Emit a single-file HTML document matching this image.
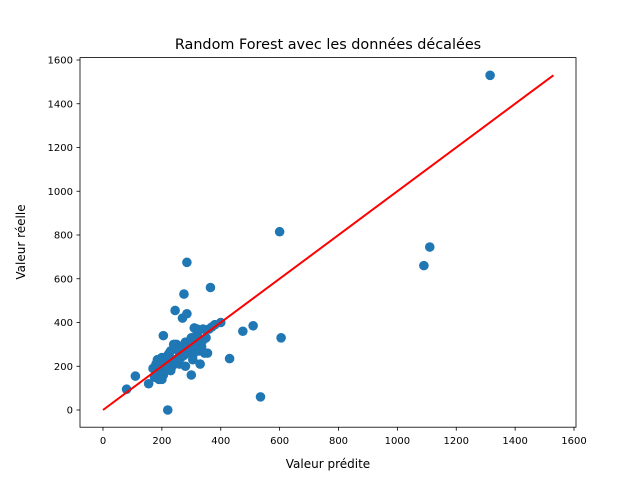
<!DOCTYPE html>
<html><head><meta charset="utf-8"><style>
body{margin:0;background:#fff;font-family:"Liberation Sans","DejaVu Sans",sans-serif}
svg text{font-family:"DejaVu Sans","Liberation Sans",sans-serif}
</style></head><body>
<svg id="chart" width="640" height="480" xmlns="http://www.w3.org/2000/svg">
<rect width="640" height="480" fill="#fff"/>
<text x="328" y="49" font-size="14.4" text-anchor="middle">Random Forest avec les données décalées</text>
<g id="marks"></g>
<rect x="80" y="57.6" width="496" height="369.6" fill="none" stroke="#000" stroke-width="0.8"/>
<g id="xt"></g><g id="yt"></g>
<text x="328" y="468" font-size="12" text-anchor="middle">Valeur prédite</text>
<text transform="translate(25,242) rotate(-90)" font-size="12" text-anchor="middle">Valeur réelle</text>
</svg>
<script>
const predicted=[1315,1110,1090,600,605,535,285,365,275,245,220,430,475,510,80,110,155,205,270,285,
170,180,190,200,210,220,230,240,250,260,270,280,290,300,310,320,330,340,350,360,370,380,400,
195,215,235,255,265,295,305,315,325,335,345,225,245,265,300,320,175,205,260,280,300,330,190,240,355,310,290,200,230,
185,250,275,320,340,215,260,290,305];
const actual=[1530,745,660,815,330,60,675,560,530,455,0,235,360,385,95,155,120,340,420,440,
190,210,200,240,230,250,270,230,300,260,290,310,280,320,300,340,300,370,330,370,380,390,400,
170,190,200,220,240,260,250,280,270,290,260,260,300,250,330,370,150,160,210,200,160,210,140,300,260,375,310,140,180,
230,280,250,350,320,210,240,300,230];
const xTicks=[0,200,400,600,800,1000,1200,1400,1600];
const yTicks=[0,200,400,600,800,1000,1200,1400,1600];
const lineEnd=1530;
const X=v=>103+v*(574-103)/1600, Y=v=>410-v*350/1600;
const NS="http://www.w3.org/2000/svg";
const m=document.getElementById('marks');
predicted.forEach((p,i)=>{const c=document.createElementNS(NS,'circle');
c.setAttribute('cx',X(p));c.setAttribute('cy',Y(actual[i]));c.setAttribute('r',4.8);c.setAttribute('fill','#1f77b4');


m.appendChild(c);});
const l=document.createElementNS(NS,'line');
l.setAttribute('x1',X(0));l.setAttribute('y1',Y(0));l.setAttribute('x2',X(lineEnd));l.setAttribute('y2',Y(lineEnd));
l.setAttribute('stroke','#ff0000');l.setAttribute('stroke-width',2);


m.appendChild(l);
const xt=document.getElementById('xt'),yt=document.getElementById('yt');
xTicks.forEach(t=>{const g=document.createElementNS(NS,'g');


g.innerHTML=`<line x1="${X(t)}" x2="${X(t)}" y1="427.2" y2="430.7" stroke="#000" stroke-width="0.8"/><text x="${X(t)}" y="444" font-size="10" text-anchor="middle">${t}</text>`;xt.appendChild(g);});
yTicks.forEach(t=>{const g=document.createElementNS(NS,'g');


g.innerHTML=`<line x1="76.5" x2="80" y1="${Y(t)}" y2="${Y(t)}" stroke="#000" stroke-width="0.8"/><text x="73" y="${Y(t)+3.6}" font-size="10" text-anchor="end">${t}</text>`;yt.appendChild(g);});
</script>
</body></html>
